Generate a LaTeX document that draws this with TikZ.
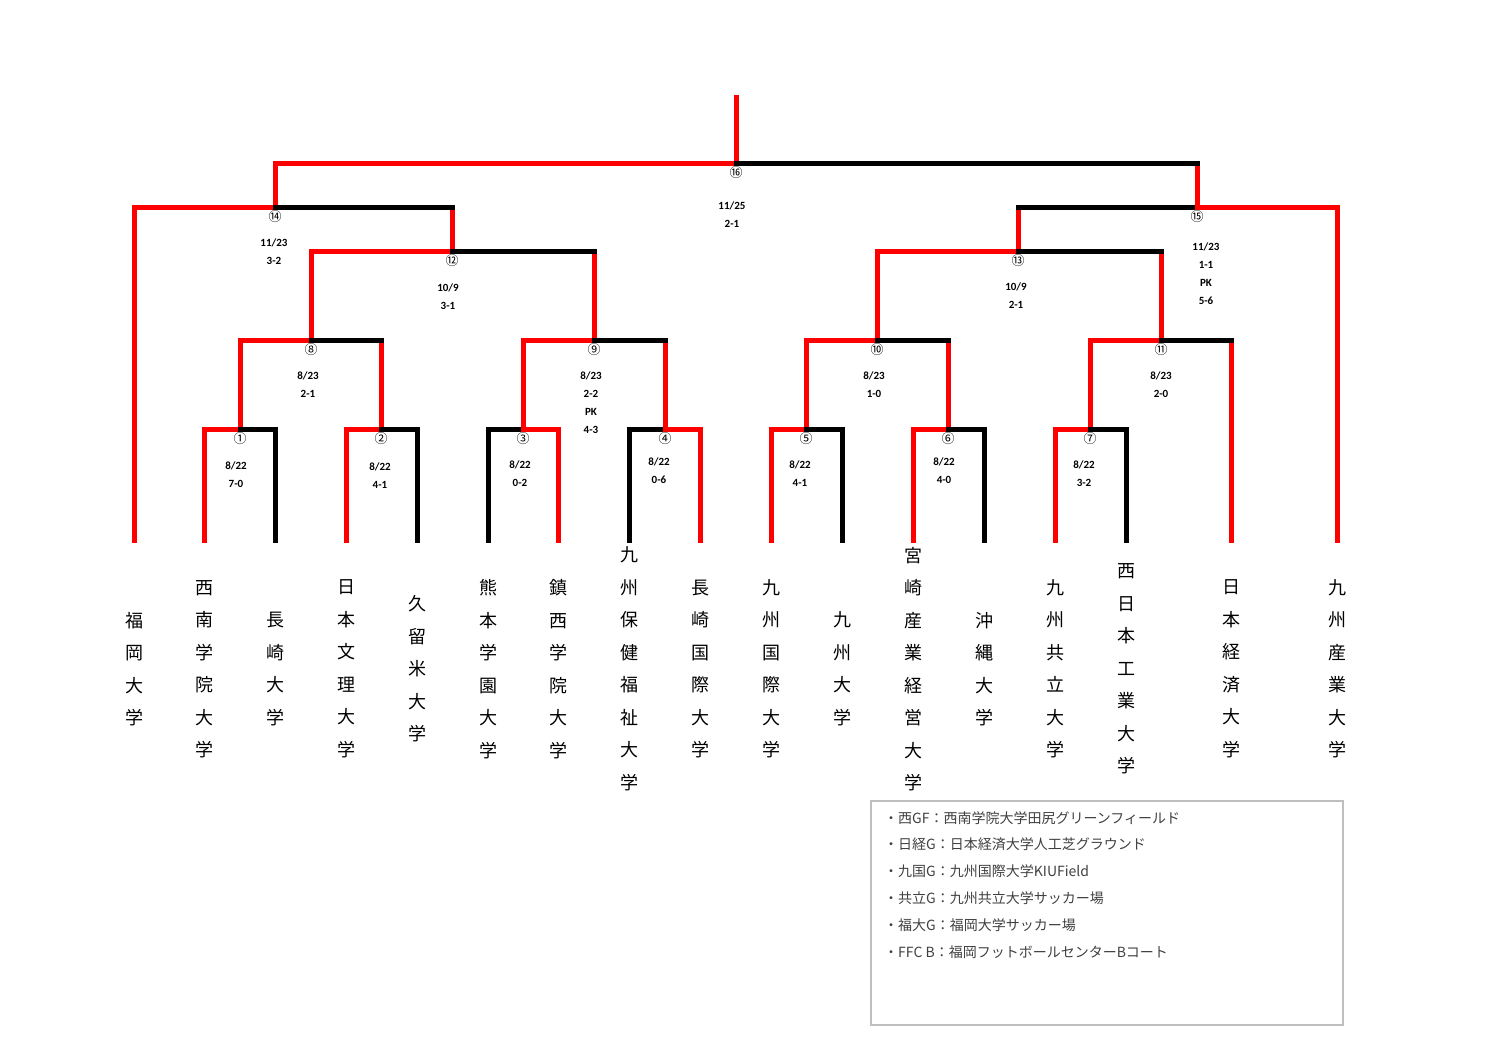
\documentclass[tikz,border=0pt]{standalone}
\usepackage{fontspec}
\setmainfont{Carlito}
\newfontfamily\cjk{Noto Sans CJK JP}
\begin{document}
\begin{tikzpicture}[x=1pt, y=-1pt, line cap=rect,
    w/.style={red, line width=5pt},
    l/.style={black, line width=5pt},
    num/.style={font=\cjk\fontsize{13}{13}\selectfont, inner sep=0pt},
    res/.style={font=\bfseries\fontsize{11}{18}\selectfont, align=center, inner sep=0pt},
    team/.style={font=\cjk\fontsize{18}{32.5}\selectfont, align=center, inner sep=0pt}]
    \useasboundingbox (0,0) rectangle (1497,1058);

    % round 1
    \draw[w] (204,540) -- (204,429) -- (240,429) -- (240,340);
    \draw[l] (240,429) -- (275,429) -- (275,540);
    \draw[w] (346,540) -- (346,429) -- (381,429) -- (381,340);
    \draw[l] (381,429) -- (417,429) -- (417,540);
    \draw[l] (488,540) -- (488,429) -- (523,429);
    \draw[w] (558,540) -- (558,429) -- (523,429) -- (523,340);
    \draw[l] (629,540) -- (629,429) -- (665,429);
    \draw[w] (700,540) -- (700,429) -- (665,429) -- (665,340);
    \draw[w] (771,540) -- (771,429) -- (806,429) -- (806,340);
    \draw[l] (806,429) -- (842,429) -- (842,540);
    \draw[w] (913,540) -- (913,429) -- (948,429) -- (948,340);
    \draw[l] (948,429) -- (984,429) -- (984,540);
    \draw[w] (1055,540) -- (1055,429) -- (1090,429) -- (1090,340);
    \draw[l] (1090,429) -- (1126,429) -- (1126,540);
    % round 2
    \draw[w] (240,340) -- (311,340) -- (311,251);
    \draw[l] (311,340) -- (381,340);
    \draw[w] (523,340) -- (594,340) -- (594,251);
    \draw[l] (594,340) -- (665,340);
    \draw[w] (806,340) -- (877,340) -- (877,251);
    \draw[l] (877,340) -- (948,340);
    \draw[w] (1231,540) -- (1231,340);
    \draw[w] (1090,340) -- (1161,340) -- (1161,251);
    \draw[l] (1161,340) -- (1231,340);
    % round 3
    \draw[w] (311,251) -- (452,251) -- (452,207);
    \draw[l] (452,251) -- (594,251);
    \draw[w] (877,251) -- (1018,251) -- (1018,207);
    \draw[l] (1018,251) -- (1161,251);
    % semi-finals
    \draw[w] (134,540) -- (134,207) -- (275,207) -- (275,163);
    \draw[l] (275,207) -- (452,207);
    \draw[l] (1018,207) -- (1197,207);
    \draw[w] (1337,540) -- (1337,207) -- (1197,207) -- (1197,163);
    % final
    \draw[w] (275,163) -- (736,163) -- (736,97);
    \draw[l] (736,163) -- (1197,163);

    % match numbers
    \node[num] (m1) at (240,439) {①};
    \node[num] (m2) at (381,439) {②};
    \node[num] (m3) at (523,439) {③};
    \node[num] (m4) at (665,439) {④};
    \node[num] (m5) at (806,439) {⑤};
    \node[num] (m6) at (948,439) {⑥};
    \node[num] (m7) at (1090,439) {⑦};
    \node[num] (m8) at (311,350) {⑧};
    \node[num] (m9) at (594,350) {⑨};
    \node[num] (m10) at (877,350) {⑩};
    \node[num] (m11) at (1161,350) {⑪};
    \node[num] (m12) at (452,261) {⑫};
    \node[num] (m13) at (1018,261) {⑬};
    \node[num] (m14) at (275,217) {⑭};
    \node[num] (m15) at (1197,217) {⑮};
    \node[num] (m16) at (736,173) {⑯};

    % results
    \node[res] (r1) at (236,475) {8/22\\7-0};
    \node[res] (r2) at (380,476) {8/22\\4-1};
    \node[res] (r3) at (520,474) {8/22\\0-2};
    \node[res] (r4) at (659,471) {8/22\\0-6};
    \node[res] (r5) at (800,474) {8/22\\4-1};
    \node[res] (r6) at (944,471) {8/22\\4-0};
    \node[res] (r7) at (1084,474) {8/22\\3-2};
    \node[res] (r8) at (308,385) {8/23\\2-1};
    \node[res] (r9) at (591,403) {8/23\\2-2\\PK\\4-3};
    \node[res] (r10) at (874,385) {8/23\\1-0};
    \node[res] (r11) at (1161,385) {8/23\\2-0};
    \node[res] (r12) at (448,297) {10/9\\3-1};
    \node[res] (r13) at (1016,296) {10/9\\2-1};
    \node[res] (r14) at (274,252) {11/23\\3-2};
    \node[res] (r15) at (1206,274) {11/23\\1-1\\PK\\5-6};
    \node[res] (r16) at (732,215) {11/25\\2-1};

    % teams
    \node[team] (t1) at (134,669) {福\\岡\\大\\学};
    \node[team] (t2) at (204,669) {西\\南\\学\\院\\大\\学};
    \node[team] (t3) at (275,669) {長\\崎\\大\\学};
    \node[team] (t4) at (346,669) {日\\本\\文\\理\\大\\学};
    \node[team] (t5) at (417,669) {久\\留\\米\\大\\学};
    \node[team] (t6) at (488,669) {熊\\本\\学\\園\\大\\学};
    \node[team] (t7) at (558,669) {鎮\\西\\学\\院\\大\\学};
    \node[team] (t8) at (629,669) {九\\州\\保\\健\\福\\祉\\大\\学};
    \node[team] (t9) at (700,669) {長\\崎\\国\\際\\大\\学};
    \node[team] (t10) at (771,669) {九\\州\\国\\際\\大\\学};
    \node[team] (t11) at (842,669) {九\\州\\大\\学};
    \node[team] (t12) at (913,669) {宮\\崎\\産\\業\\経\\営\\大\\学};
    \node[team] (t13) at (984,669) {沖\\縄\\大\\学};
    \node[team] (t14) at (1055,669) {九\\州\\共\\立\\大\\学};
    \node[team] (t15) at (1126,669) {西\\日\\本\\工\\業\\大\\学};
    \node[team] (t16) at (1231,669) {日\\本\\経\\済\\大\\学};
    \node[team] (t17) at (1337,669) {九\\州\\産\\業\\大\\学};

    % venues
    \draw[black!25, line width=1.5pt] (871,801) rectangle (1343,1025);
    \node[anchor=north west, align=left, inner sep=0pt, text=black!75,
          font=\cjk\fontsize{14}{26.8}\selectfont] (venue) at (884,811)
        {・西GF：西南学院大学田尻グリーンフィールド\\
         ・日経G：日本経済大学人工芝グラウンド\\
         ・九国G：九州国際大学KIUField\\
         ・共立G：九州共立大学サッカー場\\
         ・福大G：福岡大学サッカー場\\
         ・FFC B：福岡フットボールセンターBコート};
\end{tikzpicture}
\end{document}
